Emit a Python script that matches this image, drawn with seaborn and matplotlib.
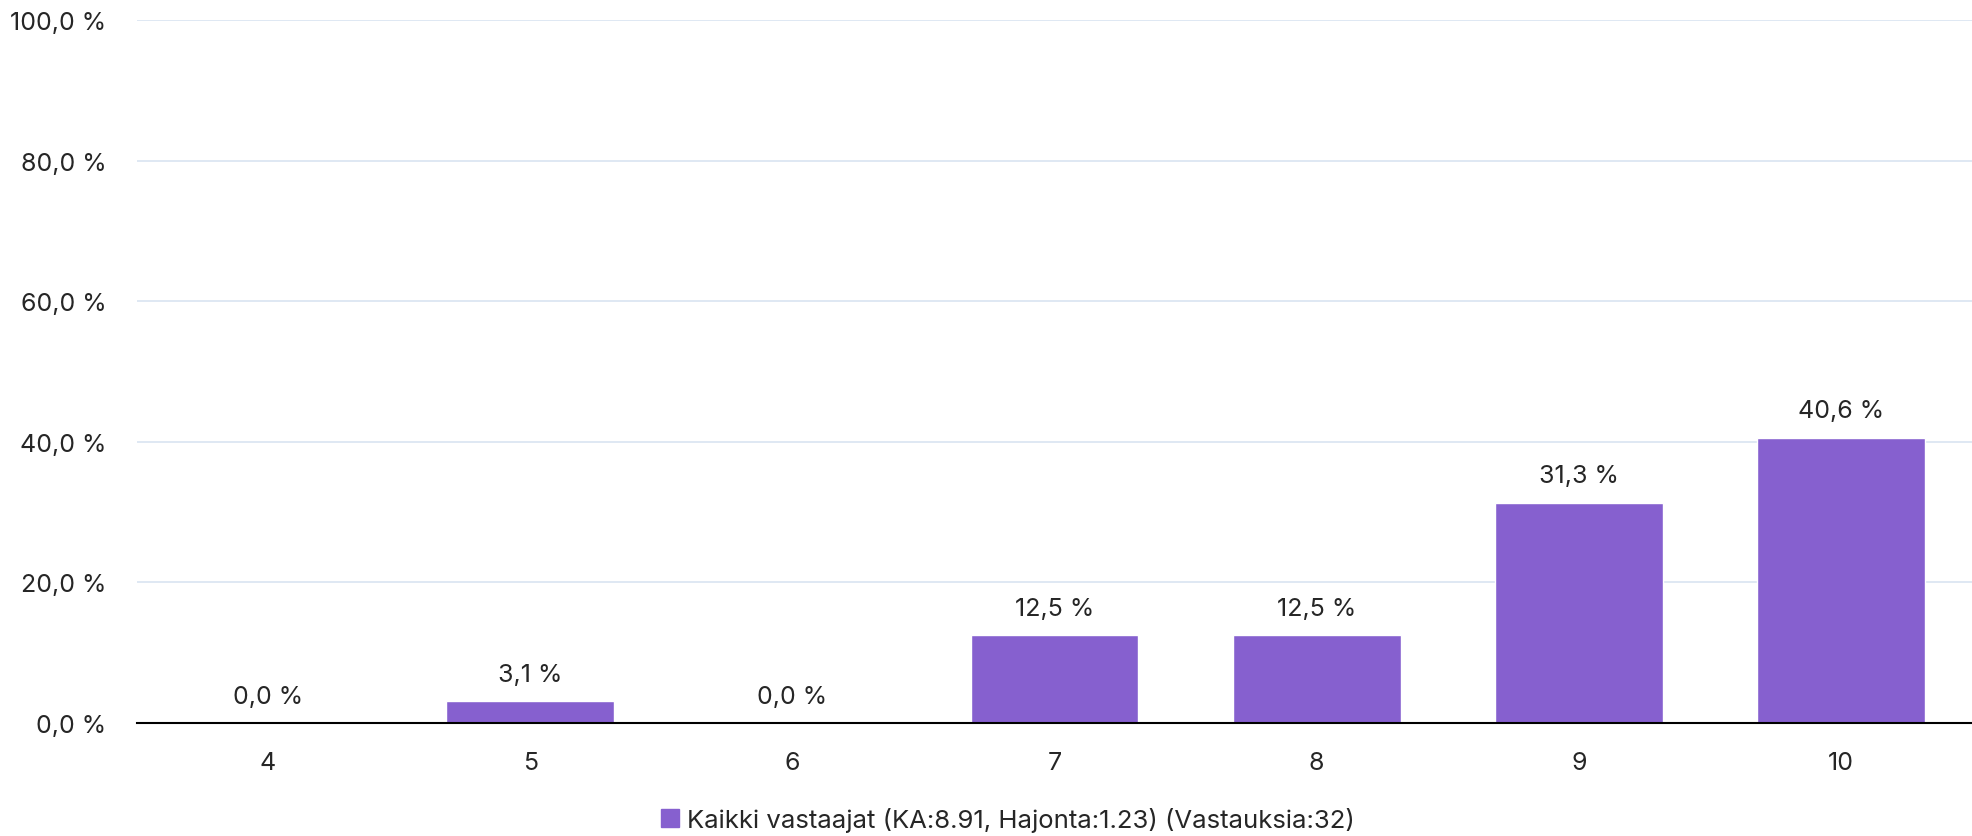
import pandas as pd
import matplotlib.pyplot as plt
import seaborn as sns

categories = ['4', '5', '6', '7', '8', '9', '10']
values = [0.0, 3.1, 0.0, 12.5, 12.5, 31.3, 40.6]
series_name = 'Kaikki vastaajat (KA:8.91, Hajonta:1.23) (Vastauksia:32)'
yticks = [0, 20, 40, 60, 80, 100]

df = pd.DataFrame({'Arvo': categories, 'Osuus': values, 'Sarja': series_name})

sns.set_style('white')
plt.rcParams['font.family'] = ['Inter', 'DejaVu Sans']

fig = plt.figure(figsize=(19.72, 8.37), dpi=100)
ax = fig.add_axes([0.0695, 0.135, 0.9305, 0.84])

sns.barplot(data=df, x='Arvo', y='Osuus', hue='Sarja', palette=['#8660cf'],
            saturation=1, width=0.64, ax=ax, legend=False, zorder=3)

ax.set_ylim(0, 100)
ax.set_xlim(-0.5, 6.5)
ax.set_yticks(yticks)
ax.set_yticklabels([f'{t:.1f} %'.replace('.', ',') for t in yticks], fontsize=18)
ax.tick_params(axis='x', labelsize=18, length=0, pad=20)
ax.tick_params(axis='y', length=0, pad=22)
ax.set_xlabel('')
ax.set_ylabel('')
ax.yaxis.grid(True, color='#dce6f2', linewidth=1.3, zorder=0)
for s in ['top', 'right', 'left']:
    ax.spines[s].set_visible(False)
ax.spines['bottom'].set_color('black')
ax.spines['bottom'].set_linewidth(1.5)
ax.spines['bottom'].set_zorder(4)

for i, v in enumerate(values):
    ax.text(i, v + 2.2, f'{v:.1f} %'.replace('.', ','), ha='center', va='bottom', fontsize=18)

handle = plt.Rectangle((0, 0), 1, 1, color='#8660cf')
fig.legend([handle], [series_name], loc='center', bbox_to_anchor=(0.511, 0.02),
           frameon=False, fontsize=18.5, handlelength=0.7, handleheight=0.7,
           handletextpad=0.3)

plt.savefig('out.png', dpi=100)
